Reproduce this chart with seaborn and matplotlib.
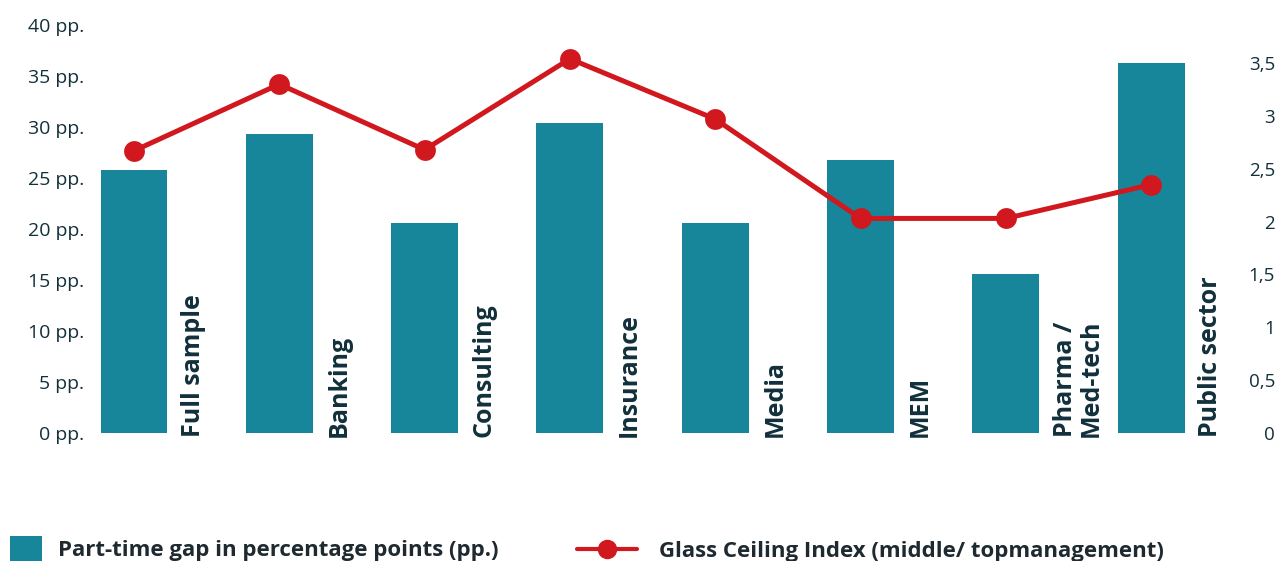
import numpy as np
import pandas as pd
import matplotlib
matplotlib.use("Agg")
import matplotlib.pyplot as plt
from matplotlib.ticker import FixedLocator, FuncFormatter
from matplotlib.patches import Patch
from matplotlib.lines import Line2D
import seaborn as sns

sectors = ["Full sample", "Banking", "Consulting", "Insurance", "Media",
           "MEM", "Pharma /\nMed-tech", "Public sector"]
part_time_gap = [25.8, 29.3, 20.6, 30.4, 20.6, 26.8, 15.6, 36.3]
glass_ceiling = [2.67, 3.30, 2.68, 3.54, 2.97, 2.03, 2.03, 2.35]
left_ticks = [0, 5, 10, 15, 20, 25, 30, 35, 40]
right_ticks = [0, 0.5, 1, 1.5, 2, 2.5, 3, 3.5]

TEAL = "#17869a"
RED = "#d0181e"
INK = "#12303b"

sns.set_theme(style="white")
plt.rcParams["font.family"] = ["Open Sans", "DejaVu Sans"]

fig = plt.figure(figsize=(12.81, 5.61), dpi=100)
ax = fig.add_axes([90 / 1281, 1 - 433 / 561, (1225 - 90) / 1281, (433 - 25) / 561])

df = pd.DataFrame({"sector": sectors, "gap": part_time_gap, "gci": glass_ceiling})
sns.barplot(data=df, x="sector", y="gap", color=TEAL, saturation=1,
            width=0.46, ax=ax)
for p in ax.patches:
    p.set_edgecolor("none")

ax.set_xlim((90 - 134) / 145.3, (1225 - 134) / 145.3)
ax.set_ylim(0, 40)
ax.yaxis.set_major_locator(FixedLocator(left_ticks))
ax.yaxis.set_major_formatter(FuncFormatter(lambda v, _: f"{v:g} pp."))
ax.set_xticks([])
ax.set_xlabel("")
ax.set_ylabel("")
ax.tick_params(axis="y", length=0, pad=4, labelsize=14, labelcolor=INK)
for s in ax.spines.values():
    s.set_visible(False)

# category names written upright beside each bar
for i, name in enumerate(sectors):
    ax.text(i + 0.325, -0.4, name, rotation=90, ha="left", va="bottom",
            fontsize=18, fontweight="bold", color=INK, linespacing=1.05)

ax2 = ax.twinx()
xs = np.arange(len(sectors))
sns.lineplot(x=xs, y=glass_ceiling, color=RED, linewidth=3.6, marker="o",
             markersize=15, markeredgewidth=0, ax=ax2)
ax2.set_ylim(0, 3.86)
ax2.yaxis.set_major_locator(FixedLocator(right_ticks))
ax2.yaxis.set_major_formatter(
    FuncFormatter(lambda v, _: f"{v:g}".replace(".", ",")))
ax2.tick_params(axis="y", length=0, pad=36, labelsize=13.5, labelcolor=INK)
for lbl in ax2.get_yticklabels():
    lbl.set_horizontalalignment("right")
ax2.set_ylabel("")
for s in ax2.spines.values():
    s.set_visible(False)
ax2.grid(False)

leg1 = fig.legend(handles=[Patch(facecolor=TEAL, edgecolor="none")],
                  labels=["Part-time gap in percentage points (pp.)"],
                  loc="lower left", bbox_to_anchor=(10 / 1281, -0.001),
                  frameon=False, handlelength=1.45, handleheight=1.4,
                  handletextpad=0.7, borderpad=0, borderaxespad=0,
                  prop={"size": 16, "weight": "bold"})
leg2 = fig.legend(handles=[Line2D([], [], color=RED, linewidth=3,
                                  marker="o", markersize=13)],
                  labels=["Glass Ceiling Index (middle/ topmanagement)"],
                  loc="lower left", bbox_to_anchor=(577 / 1281, -0.001),
                  frameon=False, handlelength=2.7, handletextpad=1.0,
                  borderpad=0, borderaxespad=0,
                  prop={"size": 16, "weight": "bold"})
for leg in (leg1, leg2):
    for t in leg.get_texts():
        t.set_color("#1e2a30")

fig.savefig("out.png", dpi=100)
